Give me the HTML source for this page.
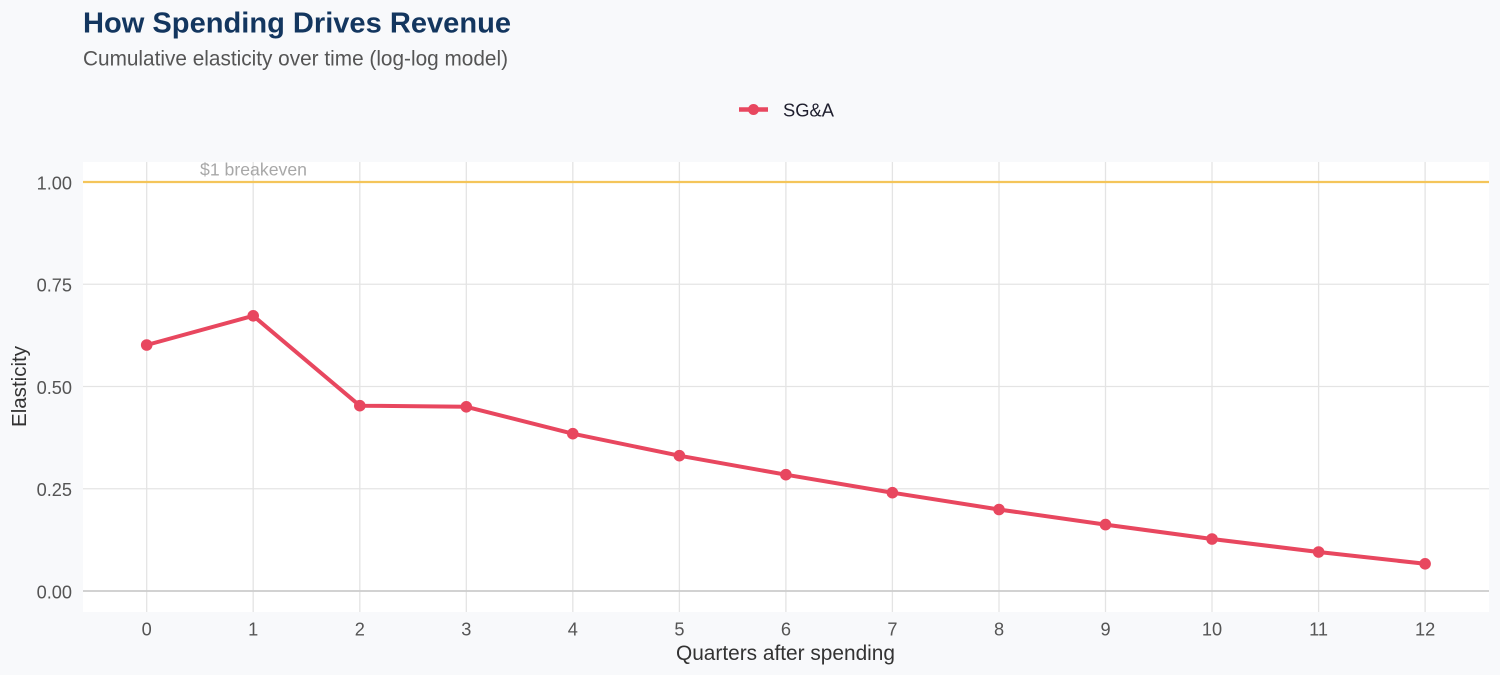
<!DOCTYPE html>
<html>
<head>
<meta charset="utf-8">
<style>
html,body{margin:0;padding:0;background:#f8f9fb;}
svg{display:block;font-family:"Liberation Sans",Arial,sans-serif;}
</style>
</head>
<body>
<svg width="1500" height="675" viewBox="0 0 1500 675" xmlns="http://www.w3.org/2000/svg">
<rect x="0" y="0" width="1500" height="675" fill="#f8f9fb"/>
<text x="83" y="32.3" font-size="29" font-weight="bold" fill="#13365f" textLength="428" lengthAdjust="spacingAndGlyphs">How Spending Drives Revenue</text>
<text x="83" y="65.5" font-size="20.8" fill="#555555" textLength="425" lengthAdjust="spacingAndGlyphs">Cumulative elasticity over time (log-log model)</text>
<!-- legend -->
<line x1="739" y1="109.5" x2="768" y2="109.5" stroke="#e8475f" stroke-width="4.5"/>
<circle cx="753.5" cy="109.5" r="5.5" fill="#e8475f"/>
<text x="783" y="116.5" font-size="18.5" fill="#1f1f2e" textLength="51" lengthAdjust="spacingAndGlyphs">SG&amp;A</text>
<!-- panel -->
<rect x="83" y="162" width="1406" height="450" fill="#ffffff"/>
<g stroke="#e4e4e4" stroke-width="1.3">
<line x1="83" y1="284.25" x2="1489" y2="284.25"/>
<line x1="83" y1="386.5" x2="1489" y2="386.5"/>
<line x1="83" y1="488.75" x2="1489" y2="488.75"/>
<line x1="146.7" y1="162" x2="146.7" y2="612"/>
<line x1="253.2" y1="162" x2="253.2" y2="612"/>
<line x1="359.8" y1="162" x2="359.8" y2="612"/>
<line x1="466.3" y1="162" x2="466.3" y2="612"/>
<line x1="572.8" y1="162" x2="572.8" y2="612"/>
<line x1="679.4" y1="162" x2="679.4" y2="612"/>
<line x1="785.9" y1="162" x2="785.9" y2="612"/>
<line x1="892.4" y1="162" x2="892.4" y2="612"/>
<line x1="999.0" y1="162" x2="999.0" y2="612"/>
<line x1="1105.5" y1="162" x2="1105.5" y2="612"/>
<line x1="1212.0" y1="162" x2="1212.0" y2="612"/>
<line x1="1318.6" y1="162" x2="1318.6" y2="612"/>
<line x1="1425.1" y1="162" x2="1425.1" y2="612"/>
</g>
<line x1="83" y1="591" x2="1489" y2="591" stroke="#cccccc" stroke-width="1.8"/>
<line x1="83" y1="182" x2="1489" y2="182" stroke="#f4c55a" stroke-width="2.2"/>
<text x="253.5" y="175.7" font-size="17.5" fill="#a8a8a8" text-anchor="middle" textLength="107" lengthAdjust="spacingAndGlyphs">$1 breakeven</text>
<!-- series -->
<polyline fill="none" stroke="#e8475f" stroke-width="4" stroke-linejoin="round" stroke-linecap="round"
points="146.7,345 253.2,315.8 359.8,405.7 466.3,406.8 572.8,433.7 679.4,455.7 785.9,474.7 892.4,492.7 999.0,509.5 1105.5,524.6 1212.0,539 1318.6,552 1425.1,563.8"/>
<g fill="#e8475f">
<circle cx="146.7" cy="345" r="5.8"/>
<circle cx="253.2" cy="315.8" r="5.8"/>
<circle cx="359.8" cy="405.7" r="5.8"/>
<circle cx="466.3" cy="406.8" r="5.8"/>
<circle cx="572.8" cy="433.7" r="5.8"/>
<circle cx="679.4" cy="455.7" r="5.8"/>
<circle cx="785.9" cy="474.7" r="5.8"/>
<circle cx="892.4" cy="492.7" r="5.8"/>
<circle cx="999.0" cy="509.5" r="5.8"/>
<circle cx="1105.5" cy="524.6" r="5.8"/>
<circle cx="1212.0" cy="539" r="5.8"/>
<circle cx="1318.6" cy="552" r="5.8"/>
<circle cx="1425.1" cy="563.8" r="5.8"/>
</g>
<!-- y ticks -->
<g font-size="18.2" fill="#555555" text-anchor="end">
<text x="72" y="189.3">1.00</text>
<text x="72" y="291.5">0.75</text>
<text x="72" y="393.8">0.50</text>
<text x="72" y="496">0.25</text>
<text x="72" y="598.3">0.00</text>
</g>
<!-- x ticks -->
<g font-size="18.2" fill="#555555" text-anchor="middle">
<text x="146.7" y="635.7">0</text>
<text x="253.2" y="635.7">1</text>
<text x="359.8" y="635.7">2</text>
<text x="466.3" y="635.7">3</text>
<text x="572.8" y="635.7">4</text>
<text x="679.4" y="635.7">5</text>
<text x="785.9" y="635.7">6</text>
<text x="892.4" y="635.7">7</text>
<text x="999.0" y="635.7">8</text>
<text x="1105.5" y="635.7">9</text>
<text x="1212.0" y="635.7">10</text>
<text x="1318.6" y="635.7">11</text>
<text x="1425.1" y="635.7">12</text>
</g>
<text x="785.5" y="660" font-size="20.8" fill="#333333" text-anchor="middle" textLength="219" lengthAdjust="spacingAndGlyphs">Quarters after spending</text>
<text transform="translate(26,386.5) rotate(-90)" font-size="20.6" fill="#333333" text-anchor="middle" textLength="81" lengthAdjust="spacingAndGlyphs">Elasticity</text>
</svg>
</body>
</html>
